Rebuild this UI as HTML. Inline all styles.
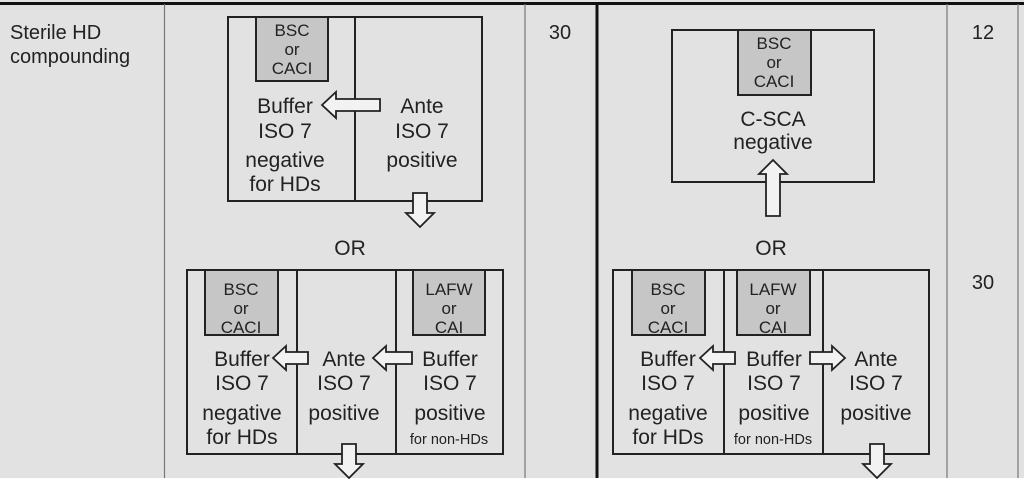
<!DOCTYPE html>
<html><head><meta charset="utf-8"><style>
html,body{margin:0;padding:0;background:#fff}
svg{display:block}
text{font-family:"Liberation Sans",Arial,sans-serif;fill:#222}
</style></head><body>
<svg width="1024" height="485" viewBox="0 0 1024 485" xmlns="http://www.w3.org/2000/svg">
<rect x="0" y="0" width="1024" height="478" fill="#e2e2e2"/>
<rect x="0" y="2" width="1024" height="3" fill="#111"/>
<line x1="164.5" y1="4" x2="164.5" y2="478" stroke="#777" stroke-width="1.2"/>
<line x1="525" y1="4" x2="525" y2="478" stroke="#777" stroke-width="1.2"/>
<line x1="597" y1="4" x2="597" y2="478" stroke="#111" stroke-width="3"/>
<line x1="947" y1="4" x2="947" y2="478" stroke="#777" stroke-width="1.2"/>
<line x1="1018" y1="4" x2="1018" y2="478" stroke="#777" stroke-width="1.2"/>

<text x="10" y="39" font-size="20">Sterile HD</text>
<text x="10" y="63" font-size="20">compounding</text>
<text x="560" y="39" font-size="20" text-anchor="middle">30</text>
<text x="983" y="39" font-size="20" text-anchor="middle">12</text>
<text x="983" y="289" font-size="20" text-anchor="middle">30</text>

<g stroke="#222" stroke-width="2" fill="none">
<rect x="228" y="17" width="254" height="184"/>
<line x1="355" y1="17" x2="355" y2="201"/>
<rect x="256" y="17" width="72" height="64" fill="#c6c6c6"/>
<rect x="187" y="270" width="316" height="184"/>
<line x1="297" y1="270" x2="297" y2="454"/>
<line x1="396" y1="270" x2="396" y2="454"/>
<rect x="205" y="270" width="73" height="65" fill="#c6c6c6"/>
<rect x="413" y="270" width="72" height="65" fill="#c6c6c6"/>
<rect x="672" y="30" width="202" height="152"/>
<rect x="738" y="30" width="73" height="65" fill="#c6c6c6"/>
<rect x="613" y="270" width="316" height="184"/>
<line x1="724" y1="270" x2="724" y2="454"/>
<line x1="823" y1="270" x2="823" y2="454"/>
<rect x="632" y="270" width="73" height="65" fill="#c6c6c6"/>
<rect x="737" y="270" width="73" height="65" fill="#c6c6c6"/>
</g>
<g stroke="#222" stroke-width="1.8" fill="#f2f2f2" stroke-linejoin="miter">
<polygon points="322,105 336,92 336,99 380,99 380,111 336,111 336,118"/>
<polygon points="413,193 427,193 427,213 434,213 420,227 406,213 413,213"/>
<polygon points="273,358 286,346 286,352 308,352 308,364 286,364 286,370"/>
<polygon points="373,358 386,346 386,352 412,352 412,364 386,364 386,370"/>
<polygon points="342,444 356,444 356,464 363,464 349,478 335,464 342,464"/>
<polygon points="773,160 787,174 780,174 780,216 766,216 766,174 759,174"/>
<polygon points="700,358 713,346 713,352 735,352 735,364 713,364 713,370"/>
<polygon points="845,358 832,346 832,352 810,352 810,364 832,364 832,370"/>
<polygon points="870,444 884,444 884,464 891,464 877,478 863,464 870,464"/>
</g>

<g font-size="17" text-anchor="middle">
<text x="292" y="36">BSC</text><text x="292" y="55">or</text><text x="292" y="74">CACI</text>
<text x="241" y="295">BSC</text><text x="241" y="314">or</text><text x="241" y="333">CACI</text>
<text x="449" y="295">LAFW</text><text x="449" y="314">or</text><text x="449" y="333">CAI</text>
<text x="774" y="49">BSC</text><text x="774" y="68">or</text><text x="774" y="87">CACI</text>
<text x="668" y="295">BSC</text><text x="668" y="314">or</text><text x="668" y="333">CACI</text>
<text x="773" y="295">LAFW</text><text x="773" y="314">or</text><text x="773" y="333">CAI</text>
</g>

<g font-size="21" text-anchor="middle">
<text x="285" y="113">Buffer</text><text x="285" y="138">ISO 7</text>
<text x="285" y="167">negative</text><text x="285" y="191">for HDs</text>
<text x="422" y="113">Ante</text><text x="422" y="138">ISO 7</text><text x="422" y="167">positive</text>
<text x="350" y="255">OR</text>
<text x="242" y="366">Buffer</text><text x="242" y="390">ISO 7</text>
<text x="242" y="420">negative</text><text x="242" y="444">for HDs</text>
<text x="344" y="366">Ante</text><text x="344" y="390">ISO 7</text><text x="344" y="420">positive</text>
<text x="450" y="366">Buffer</text><text x="450" y="390">ISO 7</text><text x="450" y="420">positive</text>
<text x="773" y="126">C-SCA</text><text x="773" y="149">negative</text>
<text x="771" y="255">OR</text>
<text x="668" y="366">Buffer</text><text x="668" y="390">ISO 7</text>
<text x="668" y="420">negative</text><text x="668" y="444">for HDs</text>
<text x="774" y="366">Buffer</text><text x="774" y="390">ISO 7</text><text x="774" y="420">positive</text>
<text x="876" y="366">Ante</text><text x="876" y="390">ISO 7</text><text x="876" y="420">positive</text>
</g>
<g font-size="14.5" text-anchor="middle">
<text x="449" y="444">for non-HDs</text>
<text x="773" y="444">for non-HDs</text>
</g>
</svg>
</body></html>
